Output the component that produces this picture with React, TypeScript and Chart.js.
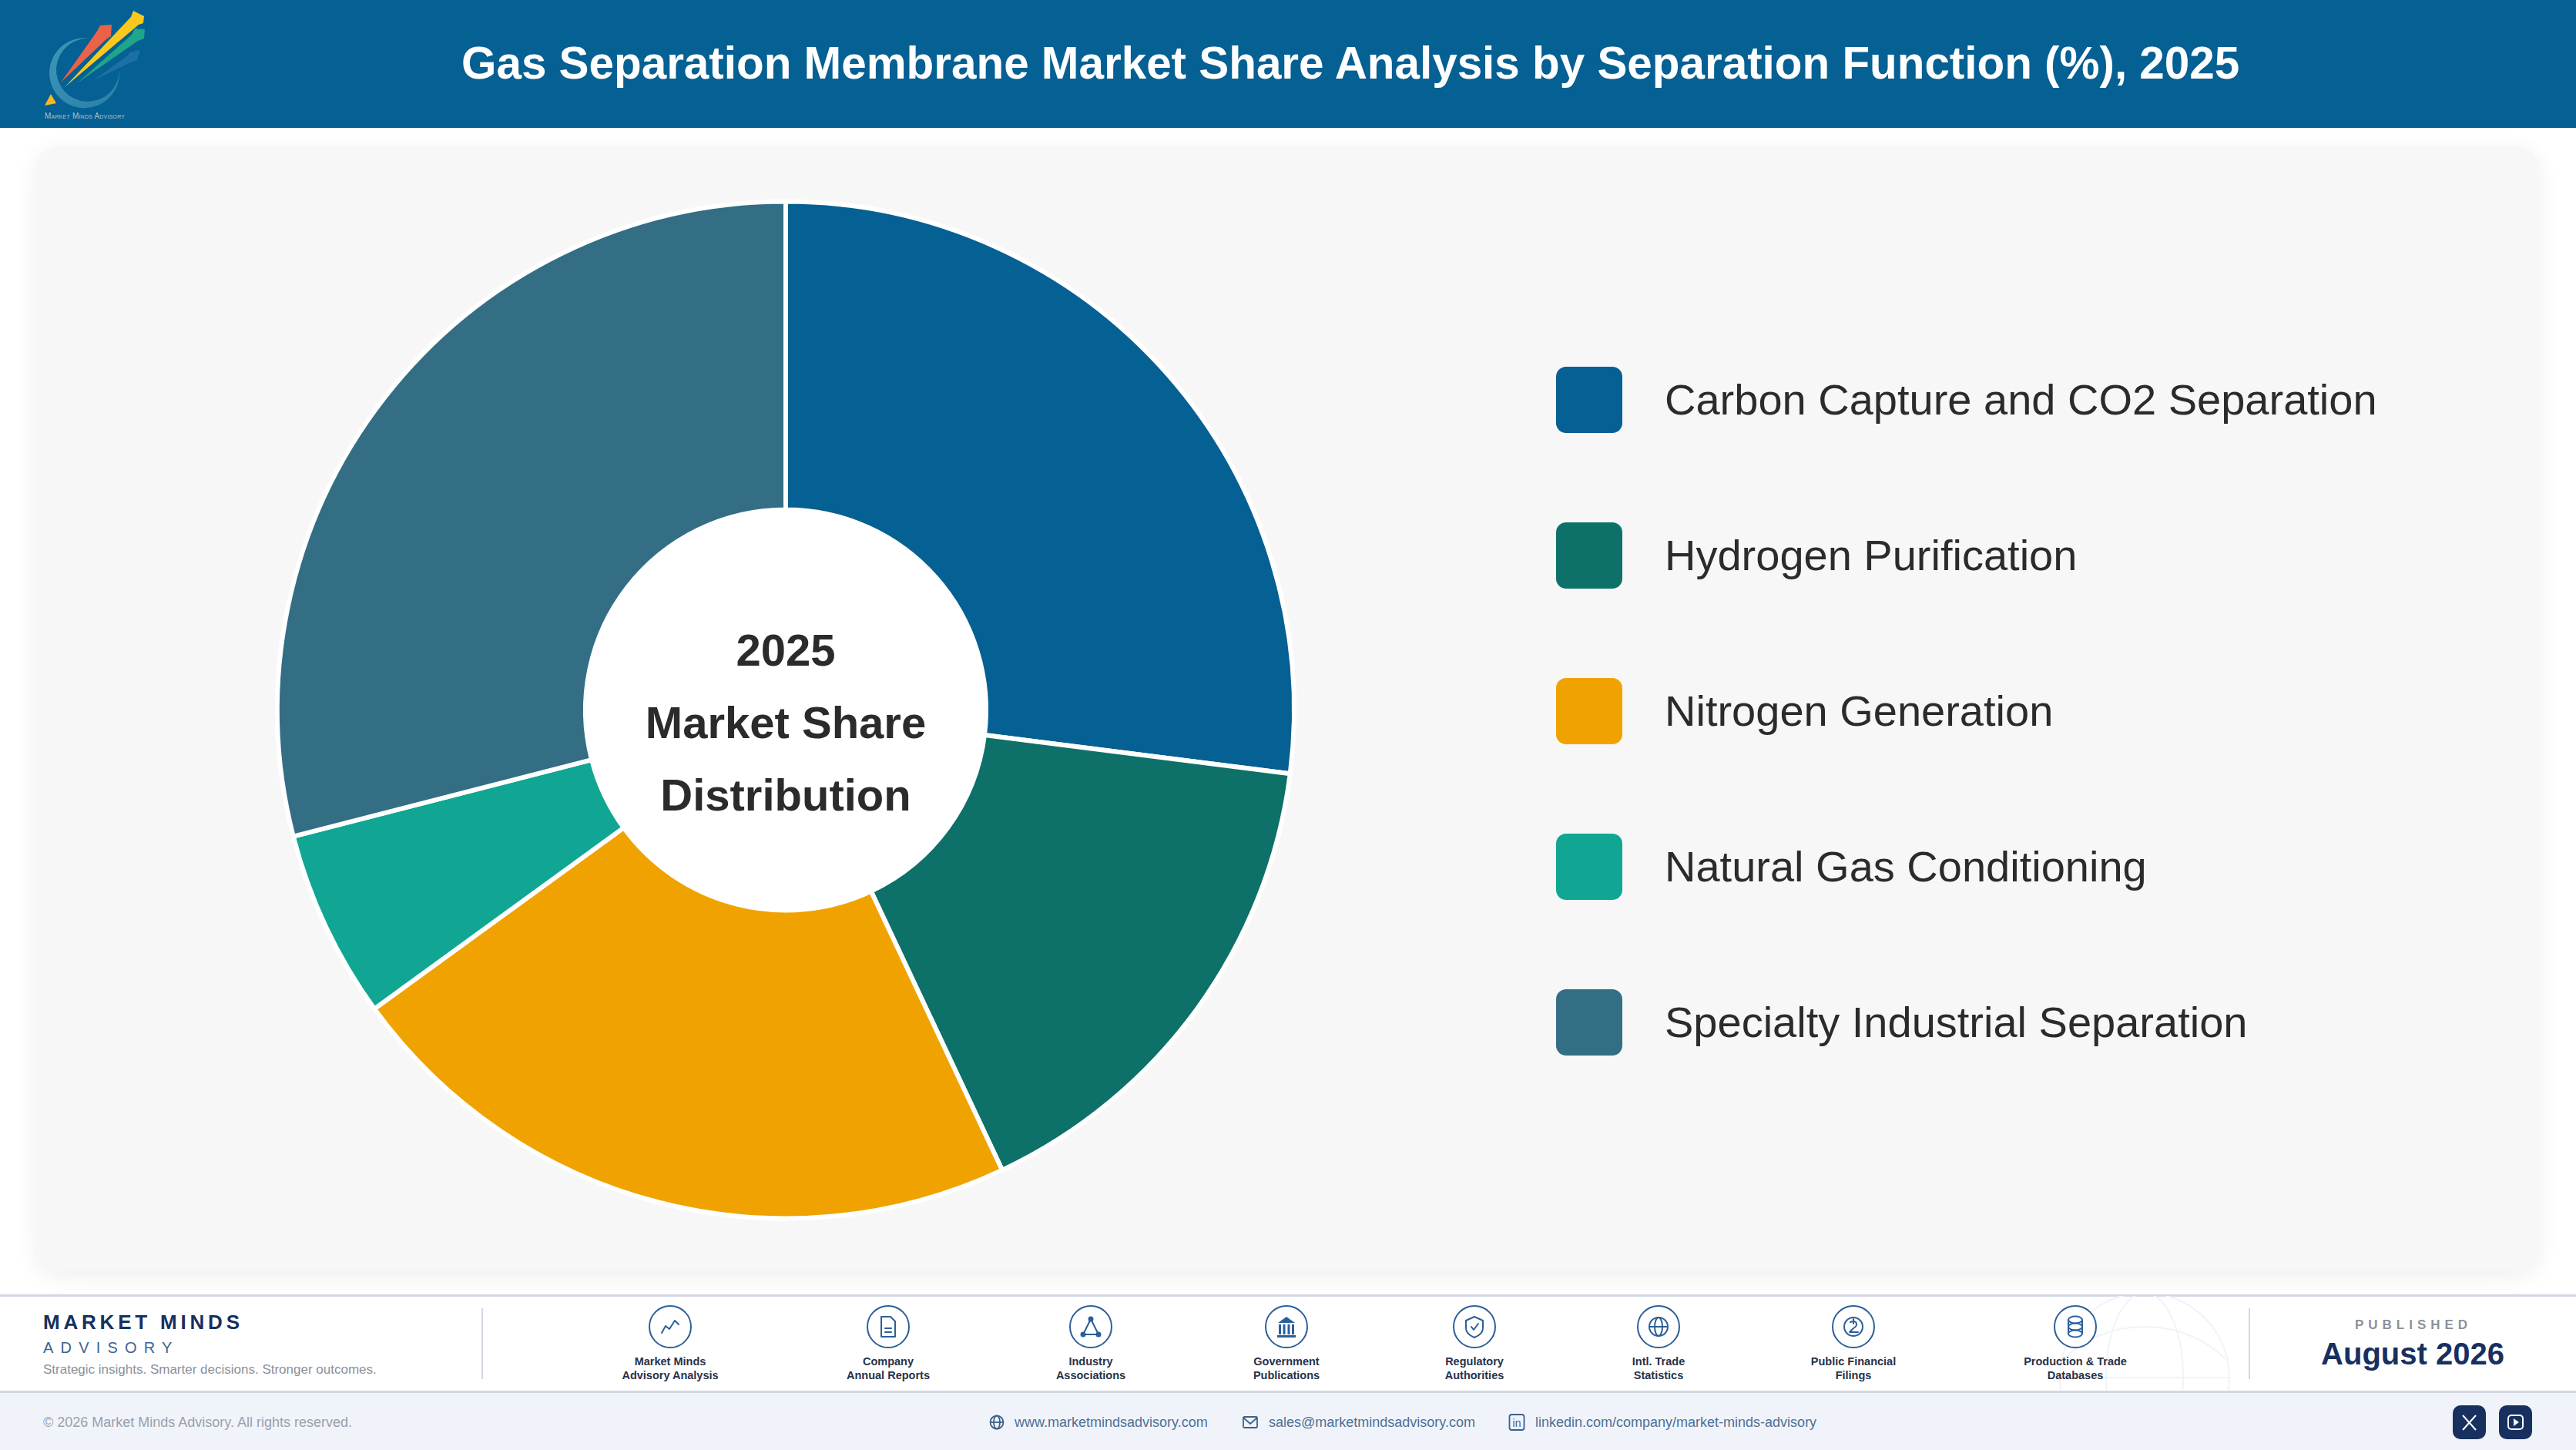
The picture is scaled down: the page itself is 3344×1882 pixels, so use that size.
import React, { useEffect, useRef } from 'react';
import { Chart, registerables } from 'chart.js';

Chart.register(...registerables);

const SANS = '"Liberation Sans", Arial, sans-serif';
const NAVY = '#17305f';
const ICON = '#2c5f98';

const labels = [
  'Carbon Capture and CO2 Separation',
  'Hydrogen Purification',
  'Nitrogen Generation',
  'Natural Gas Conditioning',
  'Specialty Industrial Separation',
];
const shares = [27, 16, 22, 6, 29];
const colors = ['#056093', '#0d7169', '#f0a300', '#10a693', '#336e85'];
const centerLines = ['2025', 'Market Share', 'Distribution'];

const sourceLines = [
  ['Market Minds', 'Advisory Analysis'],
  ['Company', 'Annual Reports'],
  ['Industry', 'Associations'],
  ['Government', 'Publications'],
  ['Regulatory', 'Authorities'],
  ['Intl. Trade', 'Statistics'],
  ['Public Financial', 'Filings'],
  ['Production & Trade', 'Databases'],
];
const sourceX = [870, 1153, 1416, 1670, 1914, 2153, 2406, 2694];

const abs = (left: number, top: number, extra: React.CSSProperties = {}): React.CSSProperties => ({
  position: 'absolute',
  left,
  top,
  whiteSpace: 'nowrap',
  ...extra,
});

const Logo = () => (
  <svg width={200} height={166} style={{ position: 'absolute', left: 0, top: 0 }}>
    <defs>
      <linearGradient id="ring" x1="0" y1="0" x2="1" y2="1">
        <stop offset="0" stopColor="#3d97b8" />
        <stop offset="1" stopColor="#2a7fa6" />
      </linearGradient>
    </defs>
    <path d="M118 50 A45.5 45.5 0 1 0 155 92 A41 41 0 1 1 118 50 Z" fill="url(#ring)" />
    <polygon points="120,105 166,72 168,68 182,65 178,78 172,80" fill="#1c6fa8" />
    <polygon points="100,108 171,45 175,37 188,38 187,50 179,53" fill="#1ea58a" />
    <polygon points="79,107 125,42 130,33 145,32 144,47 138,51" fill="#ea6248" />
    <polygon points="84,113 170,22 173,14 187,21 186,30 180,32" fill="#fbc81e" />
    <polygon points="66,122 58,137 73,134" fill="#f6b81f" />
    <text x={58} y={154} fontFamily={SANS} fontSize={10} fill="#a5c4d4" style={{ fontVariant: 'small-caps' }} textLength={104}>
      Market Minds Advisory
    </text>
  </svg>
);

// small line icons for the source row, one per source
const sourceGlyph = (i: number) => {
  const p = { fill: 'none', stroke: ICON, strokeWidth: 2, strokeLinejoin: 'round' as const, strokeLinecap: 'round' as const };
  switch (i) {
    case 0:
      return <polyline {...p} points="-11,8 -6,-1 -1,3 6,-8 11,-3" />;
    case 1:
      return (
        <g {...p}>
          <path d="M-9,-13 H3 L9,-7 V13 H-9 Z" />
          <path d="M-4,2 H4 M-4,7 H4" />
        </g>
      );
    case 2:
      return (
        <g {...p}>
          <path d="M0,-10 L-10,10 H10 Z" />
          <circle cx={0} cy={-10} r={2.5} fill={ICON} />
          <circle cx={-10} cy={10} r={2.5} fill={ICON} />
          <circle cx={10} cy={10} r={2.5} fill={ICON} />
        </g>
      );
    case 3:
      return (
        <g fill={ICON}>
          <polygon points="0,-13 -11,-5 11,-5" />
          <rect x={-10} y={-3} width={3} height={13} />
          <rect x={-4.5} y={-3} width={3} height={13} />
          <rect x={1.5} y={-3} width={3} height={13} />
          <rect x={7} y={-3} width={3} height={13} />
          <rect x={-12} y={11} width={24} height={3} />
        </g>
      );
    case 4:
      return (
        <g {...p}>
          <path d="M0,-13 L11,-8 V2 C11,8 5,12 0,14 C-5,12 -11,8 -11,2 V-8 Z" />
          <polyline points="-4,0 -1,4 5,-4" />
        </g>
      );
    case 5:
      return (
        <g {...p}>
          <circle r={12} />
          <ellipse rx={5} ry={12} />
          <path d="M-12,0 H12" />
        </g>
      );
    case 6:
      return (
        <g {...p}>
          <circle r={12} />
          <path d="M-4,-6 C4,-10 7,-2 0,2 L-5,7 H6 M0,-10 V-4" />
        </g>
      );
    default:
      return (
        <g {...p}>
          <ellipse cy={-9} rx={9} ry={4.5} />
          <ellipse cy={0} rx={9} ry={4.5} />
          <ellipse cy={9} rx={9} ry={4.5} />
          <path d="M-9,-9 V9 M9,-9 V9" />
        </g>
      );
  }
};

const SourceItem = ({ i, x }: { i: number; x: number }) => (
  <div>
    <svg width={60} height={60} viewBox="-30 -30 60 60" style={{ position: 'absolute', left: x - 30, top: 1692 }}>
      <circle r={27} fill="#fff" stroke={ICON} strokeWidth={2} />
      {sourceGlyph(i)}
    </svg>
    <div
      style={abs(x - 150, 1758, {
        width: 300,
        textAlign: 'center',
        font: `bold 14.5px/18px ${SANS}`,
        color: '#28324a',
      })}
    >
      {sourceLines[i][0]}
      <br />
      {sourceLines[i][1]}
    </div>
  </div>
);

const ContactIcons = () => {
  const c = '#3f6088';
  return (
    <svg width={3344} height={76} style={{ position: 'absolute', left: 0, top: 1806 }}>
      <g fill="none" stroke={c} strokeWidth={1.8} transform="translate(1294,40)">
        <circle r={8.5} />
        <ellipse rx={4} ry={8.5} />
        <path d="M-8.5,0 H8.5" />
      </g>
      <g fill="none" stroke={c} strokeWidth={1.8} transform="translate(1623,40)">
        <rect x={-9} y={-7} width={18} height={14} rx={1.5} />
        <polyline points="-9,-6 0,2 9,-6" />
      </g>
      <g fill="none" stroke={c} strokeWidth={1.8} transform="translate(1969,40)">
        <rect x={-9.5} y={-10} width={19} height={20} rx={3} />
      </g>
      <text x={1969} y={46} fontFamily={SANS} fontSize={14} fill={c} textAnchor="middle">
        in
      </text>
      <rect x={3184} y={18} width={43} height={44} rx={10} fill={NAVY} />
      <path d="M3197,31 L3214,50 M3214,31 L3197,50" stroke="#fff" strokeWidth={2} />
      <rect x={3244} y={18} width={43} height={44} rx={10} fill={NAVY} />
      <rect x={3256} y={31} width={19} height={18} rx={4} fill="none" stroke="#fff" strokeWidth={2} />
      <polygon points="3263,35 3263,45 3270,40" fill="#fff" />
    </svg>
  );
};

const Watermark = () => (
  <svg width={260} height={124} style={{ position: 'absolute', left: 2654, top: 1682 }}>
    <g fill="none" stroke="#f1f3f7" strokeWidth={2} transform="translate(130,106)">
      <circle r={110} />
      <ellipse rx={50} ry={110} />
      <path d="M-110,0 H110 M-105,-24 C-50,-80 50,-80 105,-24" />
    </g>
  </svg>
);

const App: React.FC = () => {
  const canvasRef = useRef<HTMLCanvasElement | null>(null);
  const chartInstance = useRef<Chart | null>(null);

  useEffect(() => {
    const canvas = canvasRef.current;
    if (!canvas) return;

    const ctx = canvas.getContext('2d');
    if (!ctx) return;

    chartInstance.current = new Chart(ctx, {
      type: 'doughnut',
      data: {
        labels,
        datasets: [
          {
            data: shares,
            backgroundColor: colors,
            borderColor: '#ffffff',
            borderWidth: 6,
            borderAlign: 'center',
          },
        ],
      },
      options: {
        animation: false,
        responsive: true,
        maintainAspectRatio: false,
        radius: 660,
        cutout: '39.4%',
        layout: { padding: 0 },
        plugins: {
          legend: { display: false },
          tooltip: { enabled: false },
        },
      },
      plugins: [
        {
          id: 'centerHole',
          beforeDatasetsDraw(chart) {
            const arc: any = chart.getDatasetMeta(0).data[0];
            const c = chart.ctx;
            c.save();
            c.fillStyle = '#ffffff';
            c.beginPath();
            c.arc(arc.x, arc.y, arc.innerRadius, 0, Math.PI * 2);
            c.fill();
            c.restore();
          },
          afterDatasetsDraw(chart) {
            const arc: any = chart.getDatasetMeta(0).data[0];
            const c = chart.ctx;
            c.save();
            c.fillStyle = '#2b2b2b';
            c.font = `bold 58px ${SANS}`;
            c.textAlign = 'center';
            c.textBaseline = 'middle';
            centerLines.forEach((line, i) => {
              c.fillText(line, arc.x, arc.y + (i - 1) * 94 + 20);
            });
            c.restore();
          },
        },
      ],
    });

    return () => {
      if (chartInstance.current) {
        chartInstance.current.destroy();
      }
    };
  }, []);

  return (
    <div style={{ position: 'relative', width: 3344, height: 1882, overflow: 'hidden', background: '#fff', fontFamily: SANS }}>
      <style>{'body{margin:0}'}</style>

      <div style={abs(0, 0, { width: 3344, height: 166, background: '#056093' })} />
      <Logo />
      <div style={abs(599, 47, { font: `bold 58.4px/70px ${SANS}`, color: '#fff' })}>
        Gas Separation Membrane Market Share Analysis by Separation Function (%), 2025
      </div>

      <div
        style={abs(47, 190, {
          width: 3248,
          height: 1460,
          background: '#f7f7f8',
          borderRadius: 28,
          boxShadow: '0 6px 30px rgba(0,0,0,0.07)',
        })}
      />
      <div style={abs(47, 192, { width: 1946, height: 1459 })}>
        <canvas ref={canvasRef}></canvas>
      </div>

      {labels.map((label, i) => (
        <div key={label}>
          <div
            style={abs(2020, 476 + i * 202, {
              width: 86,
              height: 86,
              borderRadius: 13,
              background: colors[i],
            })}
          />
          <div style={abs(2161, 476 + i * 202, { font: `56px/86px ${SANS}`, color: '#2b2b2b' })}>{label}</div>
        </div>
      ))}

      <div style={abs(0, 1680, { width: 3344, height: 3, background: '#d3d7e4' })} />
      <Watermark />
      <div style={abs(56, 1701, { font: `bold 26px/30px ${SANS}`, letterSpacing: 4.8, color: NAVY })}>MARKET MINDS</div>
      <div style={abs(56, 1737, { font: `20px/24px ${SANS}`, letterSpacing: 9.2, color: '#3f6491' })}>ADVISORY</div>
      <div style={abs(56, 1767, { font: `17px/22px ${SANS}`, color: '#8b909c' })}>
        Strategic insights. Smarter decisions. Stronger outcomes.
      </div>
      <div style={abs(625, 1698, { width: 2, height: 92, background: '#d3d7e4' })} />

      {sourceLines.map((_, i) => (
        <SourceItem key={i} i={i} x={sourceX[i]} />
      ))}

      <div style={abs(2919, 1698, { width: 2, height: 92, background: '#d3d7e4' })} />
      <div style={abs(2933, 1709, { width: 400, textAlign: 'center', font: `bold 17px/22px ${SANS}`, letterSpacing: 6, color: '#8d919c' })}>
        PUBLISHED
      </div>
      <div style={abs(2932, 1733, { width: 400, textAlign: 'center', font: `bold 40px/48px ${SANS}`, color: NAVY })}>
        August 2026
      </div>

      <div style={abs(0, 1805, { width: 3344, height: 77, background: '#f0f4fa', borderTop: '3px solid #d3d7e4', boxSizing: 'border-box' })} />
      <div style={abs(56, 1835, { font: `18px/22px ${SANS}`, color: '#9aa0ae' })}>
        © 2026 Market Minds Advisory. All rights reserved.
      </div>
      <ContactIcons />
      <div style={abs(1317, 1835, { font: `18px/22px ${SANS}`, color: '#4f6f96' })}>www.marketmindsadvisory.com</div>
      <div style={abs(1647, 1835, { font: `18px/22px ${SANS}`, color: '#4f6f96' })}>sales@marketmindsadvisory.com</div>
      <div style={abs(1993, 1835, { font: `18px/22px ${SANS}`, color: '#4f6f96' })}>linkedin.com/company/market-minds-advisory</div>
    </div>
  );
};

export default App;
